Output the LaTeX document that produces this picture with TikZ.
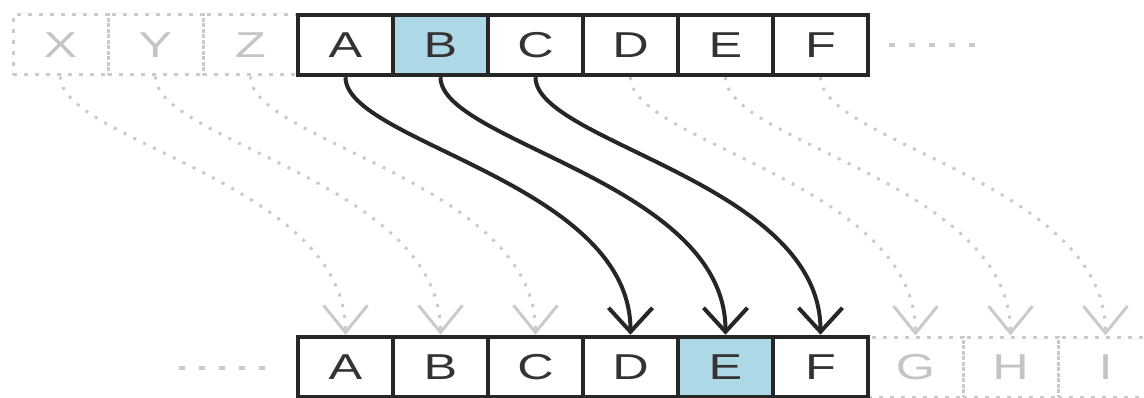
\documentclass[tikz,border=0pt]{standalone}
\usepackage{fontspec}
\usepackage{graphicx}
\newfontfamily\cellfont{Liberation Sans}
\usetikzlibrary{arrows.meta,calc}
\definecolor{ink}{HTML}{262626}
\definecolor{letter}{HTML}{333333}
\definecolor{faint}{HTML}{CACACA}
\definecolor{fainttext}{HTML}{C4C4C4}
\definecolor{hl}{HTML}{ADD8E6}
\newcommand\celltxt[1]{\scalebox{1.4}[1]{#1}}
\begin{document}
\begin{tikzpicture}[x=1pt,y=-1pt,
  cell/.style={draw=ink, line width=4.5pt, fill=white, minimum width=95pt, minimum height=60pt,
    inner sep=0pt, font=\cellfont\fontsize{36}{40}\selectfont, text=letter},
  ghost/.style={draw=faint, line width=3pt, dash pattern=on 4pt off 7pt, minimum width=95pt,
    minimum height=60pt, inner sep=0pt, font=\cellfont\fontsize{36}{40}\selectfont, text=fainttext},
  mv/.style={draw=ink, line width=4pt, -{Straight Barb[length=24pt,width=44pt]}},
  gmv/.style={draw=faint, line width=3pt, dash pattern=on 3pt off 8pt, -{Straight Barb[length=27pt,width=44pt]}},
  ellip/.style={draw=faint, line width=4pt, dash pattern=on 6pt off 14pt}]
\useasboundingbox (0,0) rectangle (1144,398);
% ghost cells
\node[ghost] (tX) at (60.5,45) {\celltxt{X}};
\node[ghost] (tY) at (155.5,45) {\celltxt{Y}};
\node[ghost] (tZ) at (250.5,45) {\celltxt{Z}};
\node[ghost] (bG) at (915.5,367) {\celltxt{G}};
\node[ghost] (bH) at (1010.5,367) {\celltxt{H}};
\node[ghost] (bI) at (1105.5,367) {\celltxt{I}};
% top row
\node[cell] (tA) at (345.5,45) {\celltxt{A}};
\node[cell,fill=hl] (tB) at (440.5,45) {\celltxt{B}};
\node[cell] (tC) at (535.5,45) {\celltxt{C}};
\node[cell] (tD) at (630.5,45) {\celltxt{D}};
\node[cell] (tE) at (725.5,45) {\celltxt{E}};
\node[cell] (tF) at (820.5,45) {\celltxt{F}};
% bottom row
\node[cell] (bA) at (345.5,367) {\celltxt{A}};
\node[cell] (bB) at (440.5,367) {\celltxt{B}};
\node[cell] (bC) at (535.5,367) {\celltxt{C}};
\node[cell] (bD) at (630.5,367) {\celltxt{D}};
\node[cell,fill=hl] (bE) at (725.5,367) {\celltxt{E}};
\node[cell] (bF) at (820.5,367) {\celltxt{F}};
% ellipses
\coordinate (e1) at (889,45);
\coordinate (e2) at (976,45);
\coordinate (e3) at (179,368);
\coordinate (e4) at (266,368);
\draw[ellip] (e1) -- (e2);
\draw[ellip] (e3) -- (e4);
% ghost moves
\foreach \s/\t in {tX/bA, tY/bB, tZ/bC, tD/bG, tE/bH, tF/bI}
  \draw[gmv] (\s.south) .. controls ($(\s.south)+(0,65)$) and ($(\t.north)+(0,-152)$) .. (\t.north);
% real moves
\foreach \s/\t in {tA/bD, tB/bE, tC/bF}
  \draw[mv] (\s.south) .. controls ($(\s.south)+(0,65)$) and ($(\t.north)+(0,-152)$) .. (\t.north);
\end{tikzpicture}
\end{document}
